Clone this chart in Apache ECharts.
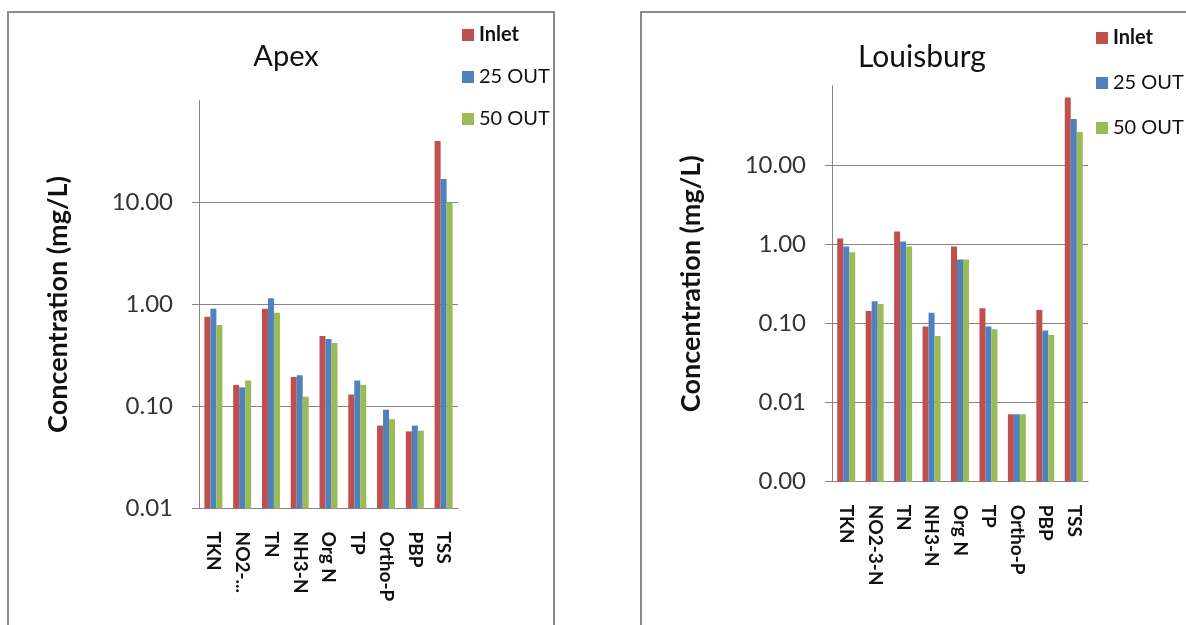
<!DOCTYPE html>
<html>
<head>
<meta charset="utf-8">
<script src="https://cdn.jsdelivr.net/npm/echarts@6/dist/echarts.min.js"></script>
<style>
html,body{margin:0;padding:0;background:#fff;}
#chart{width:1186px;height:625px;}
</style>
</head>
<body>
<div id="chart"></div>
<script>
const categories = ['TKN','NO2-3-N','TN','NH3-N','Org N','TP','Ortho-P','PBP','TSS'];
const seriesNames = ['Inlet','25 OUT','50 OUT'];
const apexInlet = [0.76,0.163,0.91,0.195,0.49,0.131,0.065,0.057,40];
const apex25Out = [0.91,0.154,1.15,0.203,0.46,0.18,0.093,0.065,17];
const apex50Out = [0.63,0.18,0.83,0.125,0.42,0.163,0.075,0.058,10];
const louInlet = [1.18,0.143,1.44,0.091,0.93,0.155,0.0071,0.147,71];
const lou25Out = [0.93,0.19,1.08,0.136,0.64,0.091,0.0071,0.081,38];
const lou50Out = [0.79,0.175,0.93,0.069,0.64,0.084,0.0071,0.071,26];
const apexTicks = [0.01,0.1,1,10];
const louTicks = [0.001,0.01,0.1,1,10];

const colors = ['#C0504D','#4F81BD','#9BBB59'];
const FONT = 'Lato';
const GRAY = '#868686';

function yAxisCfg(gridIndex, min, ticks) {
  return {
    type: 'log', gridIndex: gridIndex, min: min, max: 100, logBase: 10, startValue: min,
    name: 'Concentration (mg/L)', nameLocation: 'middle', nameGap: 127, nameRotate: 90,
    nameTextStyle: {fontFamily: FONT, fontWeight: 'bold', fontSize: 27, color: '#111'},
    axisLine: {show: true, lineStyle: {color: GRAY, width: 1}},
    axisTick: {show: true, inside: false, length: 7, lineStyle: {color: GRAY}, customValues: ticks},
    splitLine: {show: true, lineStyle: {color: GRAY, width: 1}},
    axisLabel: {
      customValues: ticks,
      fontFamily: FONT, fontSize: 24, color: '#333', margin: 26,
      formatter: v => Number(v).toFixed(2)
    }
  };
}
function xAxisCfg(gridIndex, truncate) {
  return {
    type: 'category', gridIndex: gridIndex, data: categories,
    axisLine: {show: true, lineStyle: {color: GRAY, width: 1}},
    axisTick: {show: false},
    axisLabel: {
      rotate: -90, interval: 0, margin: 23,
      fontFamily: FONT, fontWeight: 'bold', fontSize: 19, color: '#111',
      formatter: v => (truncate && v === 'NO2-3-N') ? 'NO2-...' : v
    }
  };
}
function barSeries(name, data, idx) {
  return {
    name: name, type: 'bar', xAxisIndex: idx, yAxisIndex: idx, data: data,
    barWidth: 6, barGap: '0%', itemStyle: {color: colors[seriesNames.indexOf(name)]},
    z: 3
  };
}
function legendCfg(left, top, gap) {
  return {
    orient: 'vertical', left: left, top: top, itemWidth: 12, itemHeight: 12, itemGap: gap,
    data: seriesNames, icon: 'rect', selectedMode: false,
    textStyle: {
      fontFamily: FONT, fontSize: 20, color: '#111', lineHeight: 20,
      rich: {b: {fontFamily: FONT, fontSize: 20, fontWeight: 'bold', color: '#111', lineHeight: 20}}
    },
    formatter: n => n === 'Inlet' ? '{b|Inlet}' : n
  };
}

const option = {
  animation: false,
  backgroundColor: '#fff',
  graphic: [
    {type: 'rect', shape: {x: 8, y: 12, width: 546, height: 700}, style: {fill: 'none', stroke: '#8c8c8c', lineWidth: 2}, silent: true},
    {type: 'rect', shape: {x: 641, y: 12, width: 600, height: 700}, style: {fill: 'none', stroke: '#8c8c8c', lineWidth: 2}, silent: true}
  ],
  title: [
    {text: 'Apex', left: 281, top: 37, textAlign: 'center', textStyle: {fontFamily: FONT, fontSize: 29, fontWeight: 'normal', color: '#111'}},
    {text: 'Louisburg', left: 917, top: 37, textAlign: 'center', textStyle: {fontFamily: FONT, fontSize: 30, fontWeight: 'normal', color: '#111'}}
  ],
  legend: [legendCfg(457, 20, 22), legendCfg(1091, 23, 25)],
  grid: [
    {left: 199, top: 100.5, width: 259, height: 408},
    {left: 832, top: 85.7, width: 256, height: 396}
  ],
  xAxis: [xAxisCfg(0, true), xAxisCfg(1, false)],
  yAxis: [yAxisCfg(0, 0.01, apexTicks), yAxisCfg(1, 0.001, louTicks)],
  series: [
    barSeries('Inlet', apexInlet, 0),
    barSeries('25 OUT', apex25Out, 0),
    barSeries('50 OUT', apex50Out, 0),
    barSeries('Inlet', louInlet, 1),
    barSeries('25 OUT', lou25Out, 1),
    barSeries('50 OUT', lou50Out, 1)
  ]
};
const chart = echarts.init(document.getElementById('chart'), null, {renderer: 'canvas'});
chart.setOption(option);
</script>
</body>
</html>
